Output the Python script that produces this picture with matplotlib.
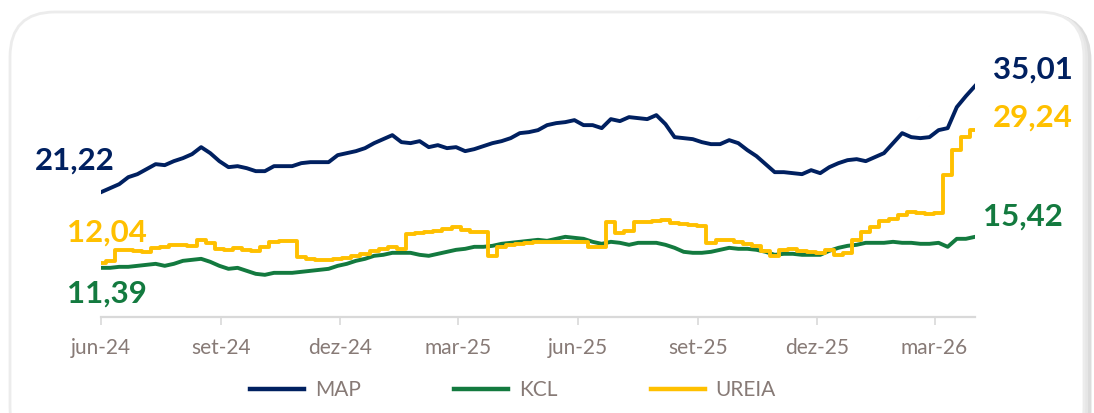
import numpy as np
import pandas as pd
import matplotlib
matplotlib.use("Agg")
import matplotlib.pyplot as plt
from matplotlib.patches import FancyBboxPatch

# weekly readings, jun-24 .. mar-26
dates = pd.date_range("2024-06-01", "2026-04-01", periods=97)

map_vals = [21.22, 21.74, 22.26, 23.17, 23.56, 24.21, 24.86, 24.73, 25.25, 25.64,
            26.16, 27.07, 26.29, 25.25, 24.47, 24.60, 24.34, 23.95, 23.95, 24.60,
            24.60, 24.60, 24.99, 25.12, 25.12, 25.12, 26.03, 26.29, 26.55, 26.94,
            27.59, 28.11, 28.63, 27.72, 27.59, 27.85, 27.07, 27.33, 26.94, 27.07,
            26.55, 26.81, 27.20, 27.59, 27.85, 28.24, 28.89, 29.02, 29.28, 29.93,
            30.19, 30.32, 30.58, 29.93, 29.93, 29.54, 30.71, 30.45, 30.97, 30.84,
            30.71, 31.23, 30.06, 28.37, 28.24, 28.11, 27.72, 27.46, 27.46, 27.98,
            27.59, 26.68, 25.90, 24.86, 23.82, 23.82, 23.69, 23.56, 24.08, 23.69,
            24.47, 24.99, 25.38, 25.51, 25.25, 25.77, 26.29, 27.59, 28.89, 28.37,
            28.24, 28.37, 29.28, 29.54, 32.27, 33.70, 35.01]

kcl_vals = [11.39, 11.39, 11.52, 11.52, 11.65, 11.78, 11.91, 11.65, 11.91, 12.30,
            12.43, 12.56, 12.17, 11.65, 11.26, 11.39, 11.00, 10.61, 10.48, 10.74,
            10.74, 10.74, 10.87, 11.00, 11.13, 11.26, 11.65, 11.91, 12.30, 12.56,
            12.95, 13.08, 13.34, 13.34, 13.34, 13.08, 12.95, 13.21, 13.47, 13.73,
            13.86, 14.12, 14.12, 14.25, 14.51, 14.64, 14.77, 14.90, 15.03, 14.90,
            15.16, 15.42, 15.29, 15.16, 14.77, 14.51, 14.77, 14.64, 14.38, 14.64,
            14.64, 14.64, 14.38, 13.99, 13.47, 13.34, 13.34, 13.47, 13.73, 13.99,
            13.86, 13.86, 13.73, 13.47, 13.08, 13.21, 13.21, 13.08, 13.08, 13.08,
            13.60, 13.99, 14.25, 14.38, 14.64, 14.64, 14.64, 14.77, 14.64, 14.64,
            14.51, 14.51, 14.64, 14.12, 15.16, 15.16, 15.42]

ureia_vals = [12.04, 12.30, 13.73, 13.73, 13.60, 13.47, 13.99, 14.12, 14.38, 14.38,
              14.25, 15.03, 14.64, 13.86, 13.73, 13.99, 13.73, 13.60, 14.12, 14.77,
              14.90, 14.90, 12.82, 12.56, 12.43, 12.43, 12.56, 12.69, 12.95, 13.21,
              13.60, 13.86, 14.12, 13.86, 15.81, 15.94, 16.07, 16.20, 16.46, 16.72,
              16.33, 16.07, 16.07, 12.95, 14.12, 14.38, 14.51, 14.64, 14.77, 14.77,
              14.77, 14.77, 14.77, 14.77, 14.12, 14.12, 17.37, 15.94, 16.20, 17.37,
              17.37, 17.50, 17.63, 17.24, 17.11, 16.98, 16.85, 14.64, 15.03, 15.03,
              14.77, 14.51, 14.25, 13.60, 12.95, 13.73, 13.86, 13.60, 13.47, 13.34,
              13.73, 13.08, 13.34, 15.03, 16.07, 16.72, 17.50, 17.76, 18.28, 18.67,
              18.54, 18.41, 18.54, 23.48, 26.73, 28.42, 29.24]

tick_dates = ["2024-06-01", "2024-09-01", "2024-12-01", "2025-03-01",
              "2025-06-01", "2025-09-01", "2025-12-01", "2026-03-01"]
tick_labels = ["jun-24", "set-24", "dez-24", "mar-25", "jun-25", "set-25", "dez-25", "mar-26"]

series = ["MAP", "KCL", "UREIA"]
colors = {"MAP": "#002060", "KCL": "#137A3F", "UREIA": "#FFC000"}
values = {"MAP": map_vals, "KCL": kcl_vals, "UREIA": ureia_vals}
# urea prices move in steps
styles = {"MAP": "default", "KCL": "default", "UREIA": "steps-mid"}

# label offsets in points (start label, end label)
start_off = {"MAP": (10, 16), "KCL": (33, -25), "UREIA": (33, 15)}
end_off = {"MAP": (13, 5), "KCL": (6, 8), "UREIA": (13, 3)}

txt_col = "#877a76"

fig = plt.figure(figsize=(10.94, 4.13), dpi=100)

# rounded frame
bg = fig.add_axes([0, 0, 1, 1], zorder=-5)
bg.set_xlim(0, 1094)
bg.set_ylim(413, 0)
bg.axis("off")
for off, col, lw in [(4, "#dcdcdc", 5), (2, "#e6e6e6", 3)]:
    bg.add_patch(FancyBboxPatch((10 + off, 12 + off), 1074, 440,
                                boxstyle="round,pad=0,rounding_size=45",
                                fc="none", ec=col, lw=lw))
bg.add_patch(FancyBboxPatch((10, 12), 1074, 440,
                            boxstyle="round,pad=0,rounding_size=45",
                            fc="white", ec="#ececec", lw=2))

ax = fig.add_axes([101 / 1094, 0.2324, 874 / 1094, 0.6523])
ax.patch.set_alpha(0)

for name in series:
    y = values[name]
    ax.plot(dates, y, color=colors[name], lw=2.8, label=name,
            drawstyle=styles[name], solid_joinstyle="round")
    dx, dy = start_off[name]
    ax.annotate(f"{y[0]:.2f}".replace(".", ","), xy=(dates[0], y[0]),
                xytext=(dx, dy), textcoords="offset points", ha="right", va="baseline",
                fontsize=22.5, fontweight="bold", color=colors[name], family="Lato")
    dx, dy = end_off[name]
    ax.annotate(f"{y[-1]:.2f}".replace(".", ","), xy=(dates[-1], y[-1]),
                xytext=(dx, dy), textcoords="offset points", ha="left", va="baseline",
                fontsize=22.5, fontweight="bold", color=colors[name], family="Lato")

ax.set_xlim(dates[0], dates[-1])
ax.set_ylim(5, 40)
ax.set_xticks(pd.to_datetime(tick_dates))
ax.set_xticklabels(tick_labels, fontsize=15, color=txt_col, family="Lato")
ax.tick_params(axis="x", direction="out", length=6, width=1.2, color="#d9d9d9", pad=9)
ax.set_yticks([])
for s in ["top", "right", "left"]:
    ax.spines[s].set_visible(False)
ax.spines["bottom"].set_color("#d9d9d9")
ax.spines["bottom"].set_linewidth(1.6)

leg = fig.legend(loc="center", bbox_to_anchor=(513 / 1094, 1 - 390 / 413), ncol=3,
                 frameon=False, handlelength=2.6, handletextpad=0.5, columnspacing=4.5,
                 prop={"family": "Lato", "size": 15})
for t in leg.get_texts():
    t.set_color(txt_col)
for h in leg.legend_handles:
    h.set_linewidth(3.2)

fig.savefig("out.png", dpi=100)
